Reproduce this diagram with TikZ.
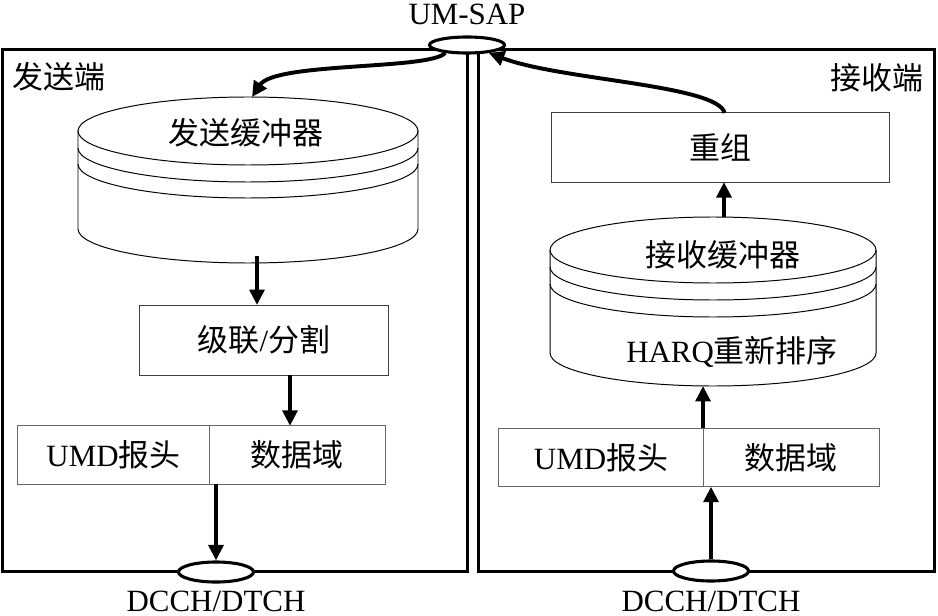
\documentclass[tikz,border=0pt]{standalone}
\usepackage{fontspec}
\setmainfont{Liberation Serif}
\newfontfamily\cjk{Noto Sans CJK SC}
\usetikzlibrary{shapes.geometric, arrows.meta, positioning, calc}

\begin{document}
\begin{tikzpicture}[
    x=0.025cm, y=-0.025cm,
    font=\fontsize{22}{26}\selectfont,
    >={Triangle[length=11pt, width=10.5pt]},
    sidebox/.style={rectangle, draw, line width=2.2pt, minimum height=13.025cm},
    port/.style={ellipse, draw, line width=2.2pt, fill=white, inner sep=0pt, minimum width=1.875cm, minimum height=0.5cm},
    stepbox/.style={rectangle, draw=black!75, line width=0.7pt, minimum height=1.73cm, inner sep=0pt, outer sep=0pt},
    fieldbox/.style={rectangle, draw=black!60, line width=0.7pt, minimum height=1.46cm, inner sep=0pt, outer sep=0pt},
    disk/.style={line width=0.7pt},
    flow/.style={->, line width=2.8pt}
]
\useasboundingbox (0,0) rectangle (938,616);

% sender / receiver frames
\node[sidebox, minimum width=11.6cm] (sender) at (235,310.5) {};
\node[sidebox, minimum width=11.375cm] (receiver) at (706.5,310.5) {};
\node[anchor=west] (senderlbl) at (8,77) {\cjk 发送端};
\node[anchor=east] (receiverlbl) at (928,78) {\cjk 接收端};

% send buffer
\draw[disk] (248,131) ellipse [x radius=170, y radius=34];
\draw[disk] (78,148) arc[start angle=180, end angle=0, x radius=170, y radius=34];
\draw[disk] (78,164) arc[start angle=180, end angle=0, x radius=170, y radius=34];
\draw[disk] (78,131) -- (78,229) arc[start angle=180, end angle=0, x radius=170, y radius=34] -- (418,131);
\node (sendbuf) at (246,133) {\cjk 发送缓冲器};
\coordinate (sendtop) at (252,97);
\coordinate (sendbot) at (257,256);

% receive buffer
\draw[disk] (713,250) ellipse [x radius=163, y radius=33];
\draw[disk] (550,267) arc[start angle=180, end angle=0, x radius=163, y radius=33];
\draw[disk] (550,284) arc[start angle=180, end angle=0, x radius=163, y radius=33];
\draw[disk] (550,250) -- (550,353) arc[start angle=180, end angle=0, x radius=163, y radius=33] -- (876,250);
\node (recvbuf) at (723,255) {\cjk 接收缓冲器};
\node (harq) at (732,352) {HARQ{\cjk 重新排序}};
\coordinate (recvtop) at (724,217);
\coordinate (recvbot) at (703,386);

% boxes
\node[stepbox, minimum width=8.43cm] (reasm) at (720.5,147.5) {\cjk 重组};
\node[stepbox, minimum width=6.2cm, minimum height=1.75cm] (concat) at (264,340) {{\cjk 级联}/{\cjk 分割}};
\node[fieldbox, minimum width=4.78cm] (hdrL) at (113.5,455) {UMD{\cjk 报头}};
\node[fieldbox, minimum width=4.4cm, right=0pt of hdrL] (dataL) {\cjk 数据域};
\node[fieldbox, minimum width=5.1cm] (hdrR) at (601,457.5) {UMD{\cjk 报头}};
\node[fieldbox, minimum width=4.4cm, right=0pt of hdrR] (dataR) {\cjk 数据域};

% access points
\node[port, minimum height=0.4cm] (umsap) at (467,45) {};
\node[port] (chL) at (216,572) {};
\node[port] (chR) at (711,571) {};
\node (umsaplbl) at (467,14) {UM-SAP};
\node (chLlbl) at (216,601) {DCCH/DTCH};
\node (chRlbl) at (711,601) {DCCH/DTCH};

% data flow
\draw[flow] (umsap.-160) .. controls (430,70) and (275,62) .. (sendtop);
\draw[flow] (sendbot) -- (sendbot |- concat.north);
\draw[flow] ([xshift=0.65cm]concat.south) -- ([xshift=0.65cm]concat.south |- dataL.north);
\draw[flow] (chL.north |- hdrL.south) -- (chL.north);
\draw[flow] (chR.north) -- (chR.north |- hdrR.south);
\draw[flow] (hdrR.north east) -- (hdrR.north east |- recvbot);
\draw[flow] (recvtop) -- (recvtop |- reasm.south);
\draw[flow] ([xshift=0.1cm]reasm.north) .. controls (718,85) and (560,80) .. (umsap.-20);
\end{tikzpicture}
\end{document}
